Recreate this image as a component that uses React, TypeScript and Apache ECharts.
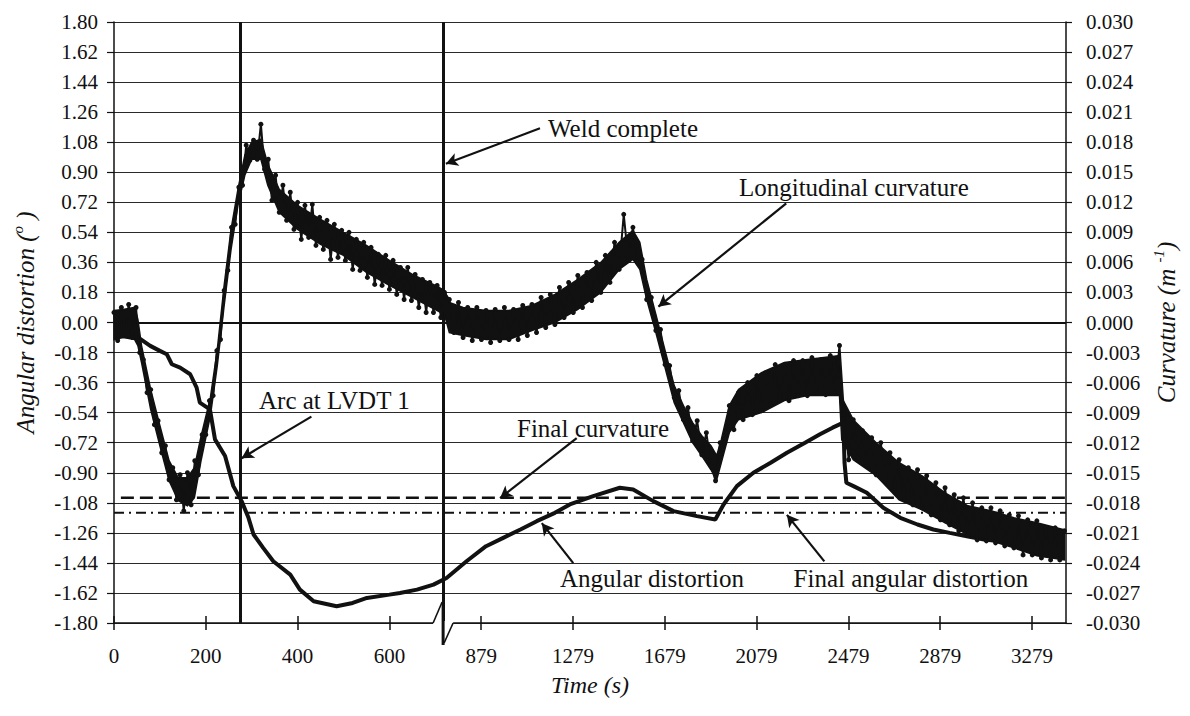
import React, { useEffect, useRef } from "react";
import * as echarts from "echarts";

// Time axis is broken: 1 unit per second up to BREAK_T, then 1 unit per 2 seconds.
const BREAK_T = 721;
const toAxis = (t: number) => (t <= BREAK_T ? t : BREAK_T + (t - BREAK_T) / 2);
const fromAxis = (u: number) => (u <= BREAK_T ? u : BREAK_T + (u - BREAK_T) * 2);

const X_TICK_TIMES = [0, 200, 400, 600, 879, 1279, 1679, 2079, 2479, 2879, 3279];
const X_MAX_TIME = 3427;

// Longitudinal curvature (m^-1), sampled every 8 s from 0 s
const CURV_LEFT_START = 0;
const CURV_LEFT_STEP = 8;
const CURV_LEFT = [
  0.0010, -0.0018, 0.0015, -0.0013, 0.0018, -0.0015, 0.0015, -0.0030, -0.0037, -0.0070,
  -0.0067, -0.0102, -0.0098, -0.0130, -0.0123, -0.0157, -0.0145, -0.0177, -0.0152, -0.0188,
  -0.0150, -0.0182, -0.0138, -0.0152, -0.0112, -0.0112, -0.0078, -0.0073, -0.0028, -0.0017,
  0.0032, 0.0052, 0.0095, 0.0098, 0.0135, 0.0137, 0.0177, 0.0162, 0.0182, 0.0163,
  0.0198, 0.0153, 0.0163, 0.0122, 0.0147, 0.0110, 0.0137, 0.0102, 0.0130, 0.0093,
  0.0120, 0.0083, 0.0117, 0.0085, 0.0118, 0.0077, 0.0105, 0.0073, 0.0102, 0.0063,
  0.0098, 0.0065, 0.0092, 0.0062, 0.0090, 0.0053, 0.0083, 0.0052, 0.0080, 0.0045,
  0.0075, 0.0038, 0.0068, 0.0037, 0.0067, 0.0033, 0.0062, 0.0028, 0.0055, 0.0023,
  0.0055, 0.0022, 0.0048, 0.0015, 0.0043, 0.0010, 0.0040, 0.0010, 0.0037, 0.0005,
  0.0030,
];
// Longitudinal curvature (m^-1), sampled every 20 s from 740 s
const CURV_RIGHT_START = 740;
const CURV_RIGHT_STEP = 20;
const CURV_RIGHT = [
  0.0023, -0.0010, 0.0020, -0.0015, 0.0015, -0.0018, 0.0015, -0.0017, 0.0012, -0.0020,
  0.0013, -0.0018, 0.0015, -0.0017, 0.0013, -0.0017, 0.0017, -0.0013, 0.0018, -0.0010,
  0.0025, -0.0005, 0.0028, -0.0002, 0.0035, 0.0005, 0.0040, 0.0010, 0.0047, 0.0015,
  0.0050, 0.0022, 0.0060, 0.0030, 0.0067, 0.0040, 0.0080, 0.0053, 0.0108, 0.0062,
  0.0095, 0.0060, 0.0063, 0.0023, 0.0025, -0.0008, -0.0007, -0.0042, -0.0043, -0.0075,
  -0.0068, -0.0097, -0.0085, -0.0118, -0.0098, -0.0132, -0.0110, -0.0143, -0.0158, -0.0120,
  -0.0120, -0.0083, -0.0107, -0.0070, -0.0097, -0.0060, -0.0092, -0.0053, -0.0088, -0.0050,
  -0.0082, -0.0042, -0.0077, -0.0042, -0.0078, -0.0038, -0.0073, -0.0038, -0.0073, -0.0035,
  -0.0070, -0.0037, -0.0072, -0.0033, -0.0070, -0.0023, -0.0092, -0.0137, -0.0097, -0.0135,
  -0.0108, -0.0143, -0.0115, -0.0152, -0.0120, -0.0158, -0.0130, -0.0168, -0.0137, -0.0177,
  -0.0145, -0.0182, -0.0147, -0.0185, -0.0153, -0.0192, -0.0160, -0.0197, -0.0165, -0.0202,
  -0.0172, -0.0208, -0.0175, -0.0212, -0.0180, -0.0217, -0.0185, -0.0218, -0.0185, -0.0220,
  -0.0188, -0.0223, -0.0192, -0.0225, -0.0193, -0.0232, -0.0197, -0.0232, -0.0198, -0.0235,
  -0.0205, -0.0237, -0.0205, -0.0237, -0.0208,
];

// Solid core of the noisy curvature record (m^-1): upper and lower edge of the dense band
const ENV_TIME = [
  0, 20, 45, 52, 60, 80, 100, 120, 140, 160, 175, 190, 210, 225, 240, 255, 270, 285, 300, 320,
  335, 360, 400, 450, 500, 550, 600, 650, 700, 720, 740, 800, 900, 1000, 1100, 1200, 1300, 1400,
  1480, 1540, 1570, 1600, 1640, 1680, 1720, 1760, 1800, 1840, 1880, 1905, 1925, 1960, 2000, 2100,
  2200, 2300, 2440, 2450, 2500, 2600, 2700, 2800, 2900, 3000, 3100, 3200, 3300, 3420,
];
const ENV_UPPER = [
  0.0012, 0.0013, 0.0015, 0.0003, -0.0023, -0.0067, -0.0103, -0.0138, -0.0155, -0.0155,
  -0.0145, -0.0113, -0.0075, -0.0027, 0.0037, 0.0093, 0.0133, 0.0167, 0.0180, 0.0183,
  0.0158, 0.0133, 0.0117, 0.0103, 0.0090, 0.0077, 0.0062, 0.0048, 0.0037, 0.0032,
  0.0020, 0.0015, 0.0012, 0.0012, 0.0017, 0.0028, 0.0043, 0.0060, 0.0080, 0.0092,
  0.0080, 0.0043, 0.0008, -0.0028, -0.0063, -0.0083, -0.0100, -0.0113, -0.0123, -0.0133,
  -0.0117, -0.0083, -0.0067, -0.0050, -0.0040, -0.0037, -0.0033, -0.0075, -0.0097, -0.0120,
  -0.0140, -0.0153, -0.0170, -0.0183, -0.0188, -0.0195, -0.0200, -0.0207,
];
const ENV_LOWER = [
  -0.0017, -0.0015, -0.0017, -0.0023, -0.0040, -0.0087, -0.0123, -0.0158, -0.0178, -0.0183,
  -0.0175, -0.0137, -0.0093, -0.0043, 0.0017, 0.0073, 0.0117, 0.0147, 0.0163, 0.0163,
  0.0137, 0.0110, 0.0093, 0.0078, 0.0067, 0.0050, 0.0037, 0.0025, 0.0013, 0.0008,
  -0.0010, -0.0013, -0.0017, -0.0017, -0.0008, 0.0000, 0.0013, 0.0030, 0.0053, 0.0063,
  0.0053, 0.0023, -0.0010, -0.0045, -0.0080, -0.0100, -0.0120, -0.0133, -0.0147, -0.0157,
  -0.0140, -0.0110, -0.0097, -0.0090, -0.0078, -0.0073, -0.0073, -0.0117, -0.0137, -0.0153,
  -0.0177, -0.0187, -0.0200, -0.0212, -0.0218, -0.0225, -0.0233, -0.0237,
];

// Angular distortion (degrees)
const ANG_TIME = [
  0, 20, 40, 53, 79, 100, 115, 126, 144, 166, 180, 187, 209, 220, 242, 260, 278, 293, 304, 325,
  347, 384, 405, 435, 485, 520, 551, 600, 623, 660, 696, 728, 815, 900, 975, 1050, 1121, 1200,
  1265, 1367, 1483, 1541, 1629, 1717, 1819, 1899, 1935, 1993, 2065, 2140, 2211, 2290, 2355,
  2410, 2457, 2462, 2470, 2501, 2559, 2631, 2705, 2780, 2849, 2920, 2995, 3070, 3141, 3210,
  3285, 3350, 3420,
];
const ANG_VALUE = [
  -0.03, -0.04, -0.05, -0.09, -0.14, -0.17, -0.19, -0.25, -0.27, -0.31, -0.39, -0.48, -0.52,
  -0.70, -0.80, -0.98, -1.07, -1.17, -1.27, -1.35, -1.43, -1.51, -1.60, -1.67, -1.70, -1.68,
  -1.65, -1.63, -1.62, -1.60, -1.57, -1.53, -1.43, -1.34, -1.29, -1.24, -1.19, -1.14, -1.09,
  -1.04, -0.99, -1.00, -1.07, -1.13, -1.16, -1.18, -1.09, -0.98, -0.90, -0.84, -0.78, -0.72,
  -0.67, -0.63, -0.60, -0.84, -0.96, -0.98, -1.02, -1.11, -1.17, -1.21, -1.24, -1.26, -1.28,
  -1.30, -1.31, -1.33, -1.34, -1.35, -1.35,
];

const FINAL_CURVATURE = -0.0175; // m^-1
const FINAL_CURV_SPAN = [15, 3427];
const FINAL_ANGULAR = -1.14; // degrees
const FINAL_ANG_SPAN = [0, 3427];

const ARC_TIME = 274;
const WELD_TIME = 717;

// annotations in (time s, angular distortion deg)
const ANNOTATIONS = [
  { text: "Weld complete", at: [1170, 1.163], from: [1135, 1.163], to: [725, 0.951] },
  { text: "Longitudinal curvature", at: [2002, 0.811], from: [2208, 0.713], to: [1651, 0.095] },
  { text: "Arc at LVDT 1", at: [316, -0.468], from: [430, -0.564], to: [278, -0.813] },
  { text: "Final curvature", at: [1035, -0.633], from: [1295, -0.693], to: [961, -1.052] },
  { text: "Angular distortion", at: [1222, -1.531], from: [1280, -1.441], to: [1143, -1.202] },
  { text: "Final angular distortion", at: [2240, -1.531], from: [2374, -1.431], to: [2211, -1.152] },
];

const FONT = '"Liberation Serif", "Times New Roman", serif';
const INK = "#111";

export default function App() {
  const ref = useRef<HTMLDivElement>(null);

  useEffect(() => {
    document.body.style.margin = "0";
    const chart = echarts.init(ref.current!, null, { renderer: "svg" });

    const curvData: number[][] = [];
    CURV_LEFT.forEach((k, i) => curvData.push([toAxis(CURV_LEFT_START + i * CURV_LEFT_STEP), k]));
    CURV_RIGHT.forEach((k, i) => curvData.push([toAxis(CURV_RIGHT_START + i * CURV_RIGHT_STEP), k]));
    const angData = ANG_TIME.map((t, i) => [toAxis(t), ANG_VALUE[i]]);

    const tickPos = X_TICK_TIMES.map(toAxis);
    const xMax = toAxis(X_MAX_TIME);

    const titleRich = {
      t: { fontFamily: FONT, fontStyle: "italic", fontSize: 25, color: INK, lineHeight: 30 },
      s: { fontFamily: FONT, fontStyle: "italic", fontSize: 15, color: INK, verticalAlign: "top", lineHeight: 30 },
    };

    const option: any = {
      animation: false,
      backgroundColor: "#fff",
      grid: { left: 114, right: 124, top: 22, bottom: 93 },
      xAxis: [
        {
          type: "value",
          min: 0,
          max: xMax,
          position: "bottom",
          axisLine: { show: true, onZero: false, lineStyle: { color: INK, width: 1.5 } },
          axisTick: { show: true, inside: false, length: 7, customValues: tickPos, lineStyle: { color: INK, width: 1.5 } },
          axisLabel: {
            customValues: tickPos,
            formatter: (u: number) => String(Math.round(fromAxis(u))),
            fontFamily: FONT,
            fontSize: 21,
            color: INK,
            margin: 22,
          },
          splitLine: { show: false },
          name: "Time (s)",
          nameLocation: "middle",
          nameGap: 50,
          nameTextStyle: { fontFamily: FONT, fontStyle: "italic", fontSize: 24, color: INK },
        },
        {
          type: "value",
          min: 0,
          max: xMax,
          position: "bottom",
          axisLine: { show: false, onZero: false },
          axisTick: { show: true, inside: true, length: 7, customValues: tickPos, lineStyle: { color: INK, width: 1.5 } },
          axisLabel: { show: false },
          splitLine: { show: false },
        },
      ],
      yAxis: [
        {
          type: "value",
          min: -1.8,
          max: 1.8,
          interval: 0.18,
          position: "left",
          axisLine: { show: true, onZero: false, lineStyle: { color: INK, width: 1.5 } },
          axisTick: { show: true, length: 7, lineStyle: { color: INK, width: 1.2 } },
          axisLabel: {
            formatter: (v: number) => (Math.abs(v) < 1e-9 ? 0 : v).toFixed(2),
            fontFamily: FONT,
            fontSize: 21,
            color: INK,
            margin: 16,
          },
          splitLine: { show: true, lineStyle: { color: "#2a2a2a", width: 1 } },
          name: "{t|Angular distortion (}{s|o}{t| )}",
          nameLocation: "middle",
          nameRotate: 90,
          nameGap: 74,
          nameTextStyle: { rich: titleRich },
        },
        {
          type: "value",
          min: -0.03,
          max: 0.03,
          interval: 0.003,
          position: "right",
          axisLine: { show: true, onZero: false, lineStyle: { color: INK, width: 1.5 } },
          axisTick: { show: true, length: 6, lineStyle: { color: INK, width: 1.2 } },
          axisLabel: {
            formatter: (v: number) => (Math.abs(v) < 1e-12 ? 0 : v).toFixed(3),
            fontFamily: FONT,
            fontSize: 21,
            color: INK,
            margin: 20,
          },
          splitLine: { show: false },
          name: "{t|Curvature (m }{s|-1}{t|)}",
          nameLocation: "middle",
          nameRotate: 90,
          nameGap: 82,
          nameTextStyle: { rich: titleRich },
        },
      ],
      series: [
        {
          name: "guides",
          type: "line",
          xAxisIndex: 0,
          yAxisIndex: 0,
          data: [],
          silent: true,
          markLine: {
            silent: true,
            symbol: ["none", "none"],
            label: { show: false },
            animation: false,
            data: [
              { xAxis: toAxis(ARC_TIME), lineStyle: { color: INK, width: 3, type: "solid" } },
              { xAxis: toAxis(WELD_TIME), lineStyle: { color: INK, width: 3, type: "solid" } },
              { yAxis: 0, lineStyle: { color: INK, width: 2, type: "solid" } },
            ],
          },
        },
        {
          name: "Final curvature",
          type: "line",
          xAxisIndex: 0,
          yAxisIndex: 1,
          data: FINAL_CURV_SPAN.map((t) => [toAxis(t), FINAL_CURVATURE]),
          showSymbol: false,
          lineStyle: { color: INK, width: 2.5, type: [13, 6] },
          z: 3,
        },
        {
          name: "Final angular distortion",
          type: "line",
          xAxisIndex: 0,
          yAxisIndex: 0,
          data: FINAL_ANG_SPAN.map((t) => [toAxis(t), FINAL_ANGULAR]),
          showSymbol: false,
          lineStyle: { color: INK, width: 2, type: [10, 5, 2, 5] },
          z: 3,
        },
        {
          name: "Angular distortion",
          type: "line",
          xAxisIndex: 0,
          yAxisIndex: 0,
          data: angData,
          showSymbol: false,
          lineStyle: { color: INK, width: 4 },
          z: 4,
        },
        {
          name: "Longitudinal curvature band",
          type: "custom",
          xAxisIndex: 0,
          yAxisIndex: 1,
          data: [[0, 0]],
          silent: true,
          z: 5,
          renderItem: (_params: any, api: any) => {
            const top = ENV_TIME.map((t, i) => api.coord([toAxis(t), ENV_UPPER[i]]));
            const bottom = ENV_TIME.map((t, i) => api.coord([toAxis(t), ENV_LOWER[i]])).reverse();
            return {
              type: "polygon",
              shape: { points: top.concat(bottom) },
              style: { fill: INK, stroke: INK, lineWidth: 1.5 },
            };
          },
        },
        {
          name: "Longitudinal curvature",
          type: "line",
          xAxisIndex: 0,
          yAxisIndex: 1,
          data: curvData,
          symbol: "circle",
          symbolSize: 5,
          showSymbol: true,
          itemStyle: { color: INK },
          lineStyle: { color: INK, width: 2 },
          z: 6,
        },
        {
          name: "arrows",
          type: "line",
          xAxisIndex: 0,
          yAxisIndex: 0,
          data: [],
          silent: true,
          markLine: {
            silent: true,
            symbol: ["none", "arrow"],
            symbolSize: [10, 12],
            label: { show: false },
            animation: false,
            lineStyle: { color: INK, width: 2.2, type: "solid" },
            data: ANNOTATIONS.map((a) => [
              { coord: [toAxis(a.from[0]), a.from[1]] },
              { coord: [toAxis(a.to[0]), a.to[1]] },
            ]),
          },
          z: 7,
        },
      ],
    };

    chart.setOption(option);

    const px = (t: number, v: number) => chart.convertToPixel({ gridIndex: 0 } as any, [toAxis(t), v]) as number[];
    const graphics: any[] = ANNOTATIONS.map((a) => {
      const p = px(a.at[0], a.at[1]);
      return {
        type: "text",
        x: p[0],
        y: p[1],
        z: 100,
        silent: true,
        style: {
          text: a.text,
          fontFamily: FONT,
          fontSize: 25,
          fill: INK,
          textAlign: "left",
          textVerticalAlign: "middle",
          align: "left",
          verticalAlign: "middle",
        },
      };
    });
    const b = px(WELD_TIME, -1.8);
    graphics.push(
      { type: "rect", z: 100, silent: true, shape: { x: b[0] - 10, y: b[1] - 2, width: 20, height: 4 }, style: { fill: "#fff" } },
      { type: "line", z: 101, silent: true, shape: { x1: b[0], y1: b[1] - 20, x2: b[0], y2: b[1] + 22 }, style: { stroke: INK, lineWidth: 3 } },
      { type: "line", z: 101, silent: true, shape: { x1: b[0] - 10, y1: b[1], x2: b[0] - 1, y2: b[1] - 21 }, style: { stroke: INK, lineWidth: 1.6 } },
      { type: "line", z: 101, silent: true, shape: { x1: b[0] + 1, y1: b[1] + 20, x2: b[0] + 10, y2: b[1] }, style: { stroke: INK, lineWidth: 1.6 } }
    );
    chart.setOption({ graphic: graphics });

    return () => chart.dispose();
  }, []);

  return (
    <div
      ref={ref}
      style={{ position: "fixed", left: 0, top: 0, width: 1190, height: 716, background: "#fff" }}
    />
  );
}
